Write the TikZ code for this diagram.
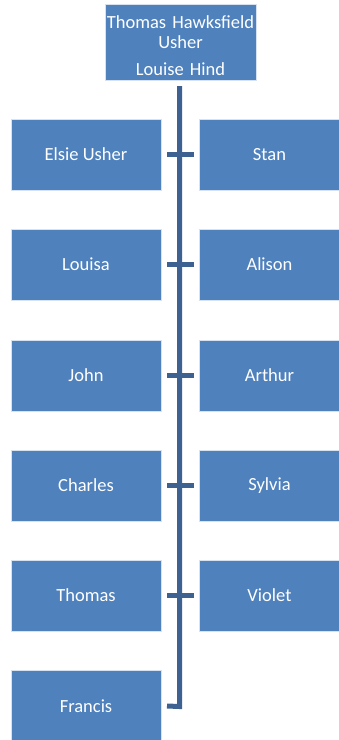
\documentclass[tikz,border=0pt]{standalone}
\usepackage{fontspec}
\setmainfont{Carlito}
\begin{document}
\definecolor{boxblue}{RGB}{79,129,189}
\definecolor{linkblue}{RGB}{61,98,145}
\definecolor{edgeblue}{RGB}{214,226,240}
\begin{tikzpicture}[x=1pt,y=-1pt,
  person/.style={draw=edgeblue, line width=0.6pt, fill=boxblue, text=white,
    font=\fontsize{18.5}{20}\selectfont, inner sep=1pt, align=center},
  leftbox/.style={person, minimum width=150pt, minimum height=71pt},
  rightbox/.style={person, minimum width=141pt, minimum height=71pt},
  link/.style={draw=linkblue, line width=5pt, line join=miter}]
\useasboundingbox (0,0) rectangle (339,740);

% parents
\node[person, minimum width=151pt, minimum height=76pt, text width=149pt]
  (root) at (180.5,42) {\rule{0pt}{20pt}Thomas Hawksfield\\Usher\\[7pt]Louise Hind};

% children
\node[leftbox]  (c1) at (86,154.5) {Elsie Usher};
\node[rightbox] (c2) at (269.5,154.5) {Stan};
\node[leftbox]  (c3) at (86,264.5) {Louisa};
\node[rightbox] (c4) at (269.5,264.5) {Alison};
\node[leftbox]  (c5) at (86,375.5) {John};
\node[rightbox] (c6) at (269.5,375.5) {Arthur};
\node[leftbox]  (c7) at (86,485.5) {Charles};
\node[rightbox] (c8) at (269.5,485.5) {Sylvia};
\node[leftbox]  (c9) at (86,595.5) {Thomas};
\node[rightbox] (c10) at (269.5,595.5) {Violet};
\node[leftbox]  (c11) at (86,706) {Francis};

% spine and branch ticks
\coordinate (spinetop) at (179.5,86);
\coordinate (spinebot) at (179.5,706.5);
\draw[link] (spinetop) -- (spinebot) -- (c11.east -| 167,0);
\foreach \l/\r in {c1/c2, c3/c4, c5/c6, c7/c8, c9/c10}
  \draw[link] (\l.east) ++(6,0) -- ([xshift=-5pt]\r.west);
\end{tikzpicture}
\end{document}
